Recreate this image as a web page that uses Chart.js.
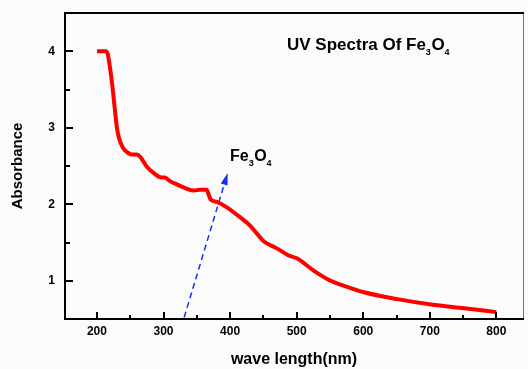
<!DOCTYPE html>
<html>
<head>
<meta charset="utf-8">
<script src="https://cdn.jsdelivr.net/npm/chart.js@4/dist/chart.umd.min.js"></script>
<style>
  html, body { margin: 0; padding: 0; background: #fbfbfb; }
  #wrap { width: 528px; height: 369px; }
</style>
</head>
<body>
<div id="wrap"><canvas id="uv" width="528" height="369"></canvas></div>
<script>
  // wavelength (nm) and absorbance
  const wavelength = [200, 213, 216, 219, 223, 227, 230, 233, 239, 247, 253, 260, 265, 275, 285, 297, 302, 310, 320, 330,
    345, 355, 365, 368, 371, 380, 395, 415, 430, 440, 450, 471, 488, 501, 526, 551, 566, 601, 651, 702, 752, 800];
  const absorbance = [4.00, 4.00, 3.97, 3.82, 3.56, 3.23, 3.00, 2.87, 2.74, 2.67, 2.65, 2.65, 2.62, 2.49, 2.41, 2.35, 2.35, 2.30, 2.26, 2.22,
    2.18, 2.19, 2.19, 2.12, 2.06, 2.03, 1.96, 1.83, 1.72, 1.62, 1.52, 1.42, 1.33, 1.29, 1.13, 1.00, 0.95, 0.85, 0.76, 0.69, 0.64, 0.59];

  // dashed pointer towards the label
  const arrowX = [331, 395];
  const arrowY = [0.52, 2.37];

  const xRange = [152, 840];
  const yRange = [0.5, 4.5];
  const xTicks = [200, 250, 300, 350, 400, 450, 500, 550, 600, 650, 700, 750, 800];
  const yTicks = [1, 1.5, 2, 2.5, 3, 3.5, 4];
  const xLabelTicks = [200, 300, 400, 500, 600, 700, 800];
  const yLabelTicks = [1, 2, 3, 4];

  const FONT = "'Liberation Sans', Arial, sans-serif";

  function chem(ctx, parts, x, y, size) {
    // parts: [text, isSub]
    parts.forEach(([t, sub]) => {
      ctx.font = 'bold ' + (sub ? Math.round(size * 0.55) : size) + 'px ' + FONT;
      ctx.fillText(t, x, sub ? y + 5 : y);
      x += ctx.measureText(t).width + (sub ? 0.5 : 0);
    });
  }

  const frame = {
    id: 'frame',
    beforeDraw(chart) {
      const c = chart.ctx;
      c.save();
      c.fillStyle = '#fbfbfb';
      c.fillRect(0, 0, chart.width, chart.height);
      c.restore();
    },
    afterDraw(chart) {
      const c = chart.ctx, a = chart.chartArea;
      const xs = chart.scales.x, ys = chart.scales.y;
      c.save();
      // arrow head
      const m = chart.getDatasetMeta(1).data;
      const p0 = m[0], p1 = m[1];
      const ang = Math.atan2(p1.y - p0.y, p1.x - p0.x);
      c.fillStyle = '#1b2ff0';
      c.beginPath();
      c.moveTo(p1.x + 3 * Math.cos(ang), p1.y + 3 * Math.sin(ang));
      c.lineTo(p1.x - 9 * Math.cos(ang) + 3.5 * Math.sin(ang), p1.y - 9 * Math.sin(ang) - 3.5 * Math.cos(ang));
      c.lineTo(p1.x - 9 * Math.cos(ang) - 3.5 * Math.sin(ang), p1.y - 9 * Math.sin(ang) + 3.5 * Math.cos(ang));
      c.closePath();
      c.fill();

      // frame
      c.strokeStyle = '#777';
      c.lineWidth = 1;
      c.beginPath();
      c.moveTo(a.right + 0.5, a.top);
      c.lineTo(a.right + 0.5, a.bottom);
      c.stroke();
      c.strokeStyle = '#000';
      c.lineWidth = 2;
      c.beginPath();
      c.moveTo(a.right + 1, a.top);
      c.lineTo(a.left, a.top);
      c.lineTo(a.left, a.bottom);
      c.lineTo(a.right + 1, a.bottom);
      c.stroke();

      // inward ticks, major longer than minor
      xs.ticks.forEach(t => {
        const px = Math.round(xs.getPixelForValue(t.value));
        const len = xLabelTicks.includes(t.value) ? 7 : 4;
        c.beginPath();
        c.moveTo(px, a.bottom);
        c.lineTo(px, a.bottom - len);
        c.stroke();
      });
      ys.ticks.forEach(t => {
        const py = Math.round(ys.getPixelForValue(t.value));
        const len = yLabelTicks.includes(t.value) ? 8 : 5;
        c.beginPath();
        c.moveTo(a.left, py);
        c.lineTo(a.left + len, py);
        c.stroke();
      });

      // texts
      c.fillStyle = '#000';
      c.textBaseline = 'alphabetic';
      c.textAlign = 'left';
      chem(c, [['UV Spectra Of Fe', 0], ['3', 1], ['O', 0], ['4', 1]], 287, 50, 17);
      chem(c, [['Fe', 0], ['3', 1], ['O', 0], ['4', 1]], 230, 161, 16);
      c.restore();
    }
  };

  new Chart(document.getElementById('uv'), {
    type: 'line',
    data: {
      datasets: [
        {
          data: wavelength.map((w, i) => ({ x: w, y: absorbance[i] })),
          borderColor: '#ff0000',
          borderWidth: 4,
          pointRadius: 0,
          cubicInterpolationMode: 'monotone',
          fill: false,
        },
        {
          data: arrowX.map((w, i) => ({ x: w, y: arrowY[i] })),
          borderColor: '#1b2ff0',
          borderWidth: 1.5,
          borderDash: [6, 4],
          pointRadius: 0,
          fill: false,
        },
      ],
    },
    options: {
      responsive: false,
      animation: false,
      layout: { padding: { left: 0, top: 13, right: 5, bottom: 0 } },
      plugins: { legend: { display: false }, tooltip: { enabled: false }, title: { display: false } },
      scales: {
        x: {
          type: 'linear',
          min: xRange[0], max: xRange[1],
          grid: { display: false, drawTicks: false },
          border: { display: false },
          afterBuildTicks: (s) => { s.ticks = xTicks.map((v) => ({ value: v })); },
          afterFit: (s) => { s.height = 50; s.paddingLeft = 0; s.paddingRight = 0; },
          ticks: {
            padding: 5,
            maxRotation: 0,
            autoSkip: false,
            color: '#000',
            font: { family: FONT, size: 12, weight: 'bold' },
            callback: (v) => (xLabelTicks.includes(v) ? String(v) : ''),
          },
          title: {
            display: true,
            text: 'wave length(nm)',
            color: '#000',
            padding: { top: 0, bottom: 0 },
            font: { family: FONT, size: 16, weight: 'bold' },
          },
        },
        y: {
          type: 'linear',
          min: yRange[0], max: yRange[1],
          grid: { display: false, drawTicks: false },
          border: { display: false },
          afterBuildTicks: (s) => { s.ticks = yTicks.map((v) => ({ value: v })); },
          afterFit: (s) => { s.width = 65; s.paddingTop = 0; s.paddingBottom = 0; },
          ticks: {
            padding: 10,
            autoSkip: false,
            color: '#000',
            font: { family: FONT, size: 12, weight: 'bold' },
            callback: (v) => (yLabelTicks.includes(v) ? String(v) : ''),
          },
          title: {
            display: true,
            text: 'Absorbance',
            color: '#000',
            padding: { top: 9, bottom: 0 },
            font: { family: FONT, size: 15, weight: 'bold' },
          },
        },
      },
    },
    plugins: [frame],
  });
</script>
</body>
</html>
